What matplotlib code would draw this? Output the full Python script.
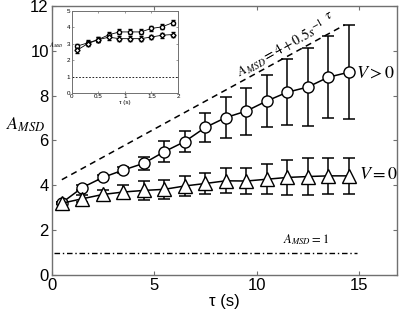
import matplotlib
matplotlib.use("Agg")
import matplotlib.pyplot as plt
import numpy as np

plt.rcParams['font.family'] = ['Liberation Sans', 'DejaVu Sans']
plt.rcParams['mathtext.fontset'] = 'stix'

# Main panel data
tau = [0.5, 1.5, 2.5, 3.5, 4.5, 5.5, 6.5, 7.5, 8.5, 9.5, 10.5, 11.5, 12.5, 13.5, 14.5]
a_moving = [3.22, 3.90, 4.35, 4.68, 4.98, 5.50, 5.95, 6.58, 7.02, 7.31, 7.76, 8.15, 8.38, 8.82, 9.04]
a_moving_err = [0.05, 0.1, 0.1, 0.12, 0.3, 0.47, 0.48, 0.65, 0.9, 1.05, 1.14, 1.48, 1.72, 1.83, 2.1]
a_still = [3.2, 3.40, 3.59, 3.70, 3.77, 3.82, 3.97, 4.08, 4.20, 4.19, 4.27, 4.35, 4.39, 4.42, 4.42]
a_still_err = [0.05, 0.15, 0.2, 0.3, 0.42, 0.42, 0.44, 0.47, 0.55, 0.58, 0.66, 0.77, 0.83, 0.8, 0.8]

# Inset data
tau_in = [0.1, 0.3, 0.5, 0.7, 0.9, 1.1, 1.3, 1.5, 1.7, 1.9]
in_upper = [2.85, 3.05, 3.25, 3.55, 3.72, 3.72, 3.72, 3.93, 4.03, 4.28]
in_upper_err = [0.15, 0.15, 0.15, 0.15, 0.15, 0.15, 0.15, 0.15, 0.15, 0.15]
in_lower = [2.6, 3.0, 3.25, 3.4, 3.31, 3.31, 3.31, 3.41, 3.52, 3.56]
in_lower_err = [0.15, 0.15, 0.15, 0.15, 0.15, 0.15, 0.15, 0.15, 0.15, 0.15]

fig = plt.figure(figsize=(4.0, 3.17), dpi=100)
ax = fig.add_axes([0.129, 0.1325, 0.8635, 0.849])

spine_col = '#707070'
for s in ax.spines.values():
    s.set_color(spine_col)
    s.set_linewidth(1.0)
ax.tick_params(direction='in', top=True, right=True, length=3, width=0.8,
               color=spine_col, labelsize=12, pad=2)

ax.errorbar(tau, a_moving, yerr=a_moving_err, fmt='-o', color='black',
            mfc='white', mec='black', ms=8, lw=1.1, capsize=4.5, elinewidth=1.1,
            capthick=1.1, zorder=3)
ax.errorbar(tau, a_still, yerr=a_still_err, fmt='-^', color='black',
            mfc='white', mec='black', ms=10, lw=1.1, capsize=4.5, elinewidth=1.1,
            capthick=1.1, zorder=3)

t_line = np.array([tau[0], tau[-1] - 0.2])
ax.plot(t_line, 4 + 0.5 * t_line, color='black', lw=1.1, ls=(0, (4, 3)))
ax.plot([0.1, 14.9], [1, 1], color='black', lw=1.0, ls=(0, (4, 2, 1, 2)))

ax.set_xlim(0, 16.85)
ax.set_ylim(0, 12)
ax.set_xticks([0, 5, 10, 15])
ax.set_yticks([0, 2, 4, 6, 8, 10, 12])
ax.set_xlabel('τ (s)', fontsize=12, labelpad=1)
ax.set_ylabel(r'$A_{MSD}$', fontsize=13, rotation=0, labelpad=2)
ax.yaxis.set_label_coords(-0.075, 0.525)

ax.text(11.2, 10.1, r'$A_{MSD}=4+0.5s^{-1}$', fontsize=10, rotation=29,
        ha='center', va='center')
ax.text(13.5, 11.6, r'$\tau$', fontsize=10, rotation=29, ha='center', va='center')
ax.text(14.85, 9.0, r'$V>0$', fontsize=13, ha='left', va='center')
ax.text(15.0, 4.49, r'$V=0$', fontsize=13, ha='left', va='center')
ax.text(12.4, 1.56, r'$A_{MSD}=1$', fontsize=9, ha='center', va='center')

# Inset
axi = fig.add_axes([0.179, 0.7066, 0.266, 0.259])
for s in axi.spines.values():
    s.set_color(spine_col)
    s.set_linewidth(0.7)
axi.tick_params(direction='in', top=True, right=True, length=1.5, width=0.5,
                color=spine_col, labelsize=4.5, pad=1)
axi.errorbar(tau_in, in_upper, yerr=in_upper_err, fmt='-o', color='black',
             mfc='white', mec='black', ms=3, lw=0.6, capsize=1.5, elinewidth=0.6)
axi.errorbar(tau_in, in_lower, yerr=in_lower_err, fmt='-D', color='black',
             mfc='white', mec='black', ms=2.6, lw=0.6, capsize=1.5, elinewidth=0.6)
axi.plot([0, 2], [1, 1], color='black', lw=0.6, ls=(0, (2, 2)))
axi.set_xlim(0, 2)
axi.set_ylim(0, 5)
axi.set_xticks([0, 0.5, 1, 1.5, 2])
axi.set_xticklabels(['0', '0.5', '1', '1.5', '2'])
axi.set_yticks([0, 1, 2, 3, 4, 5])
axi.set_xlabel('τ (s)', fontsize=4.5, labelpad=0.5)
axi.set_ylabel(r'$A_{MSD}$', fontsize=4.5, rotation=0, labelpad=1)
axi.yaxis.set_label_coords(-0.14, 0.52)

fig.savefig('out.png', dpi=100)
